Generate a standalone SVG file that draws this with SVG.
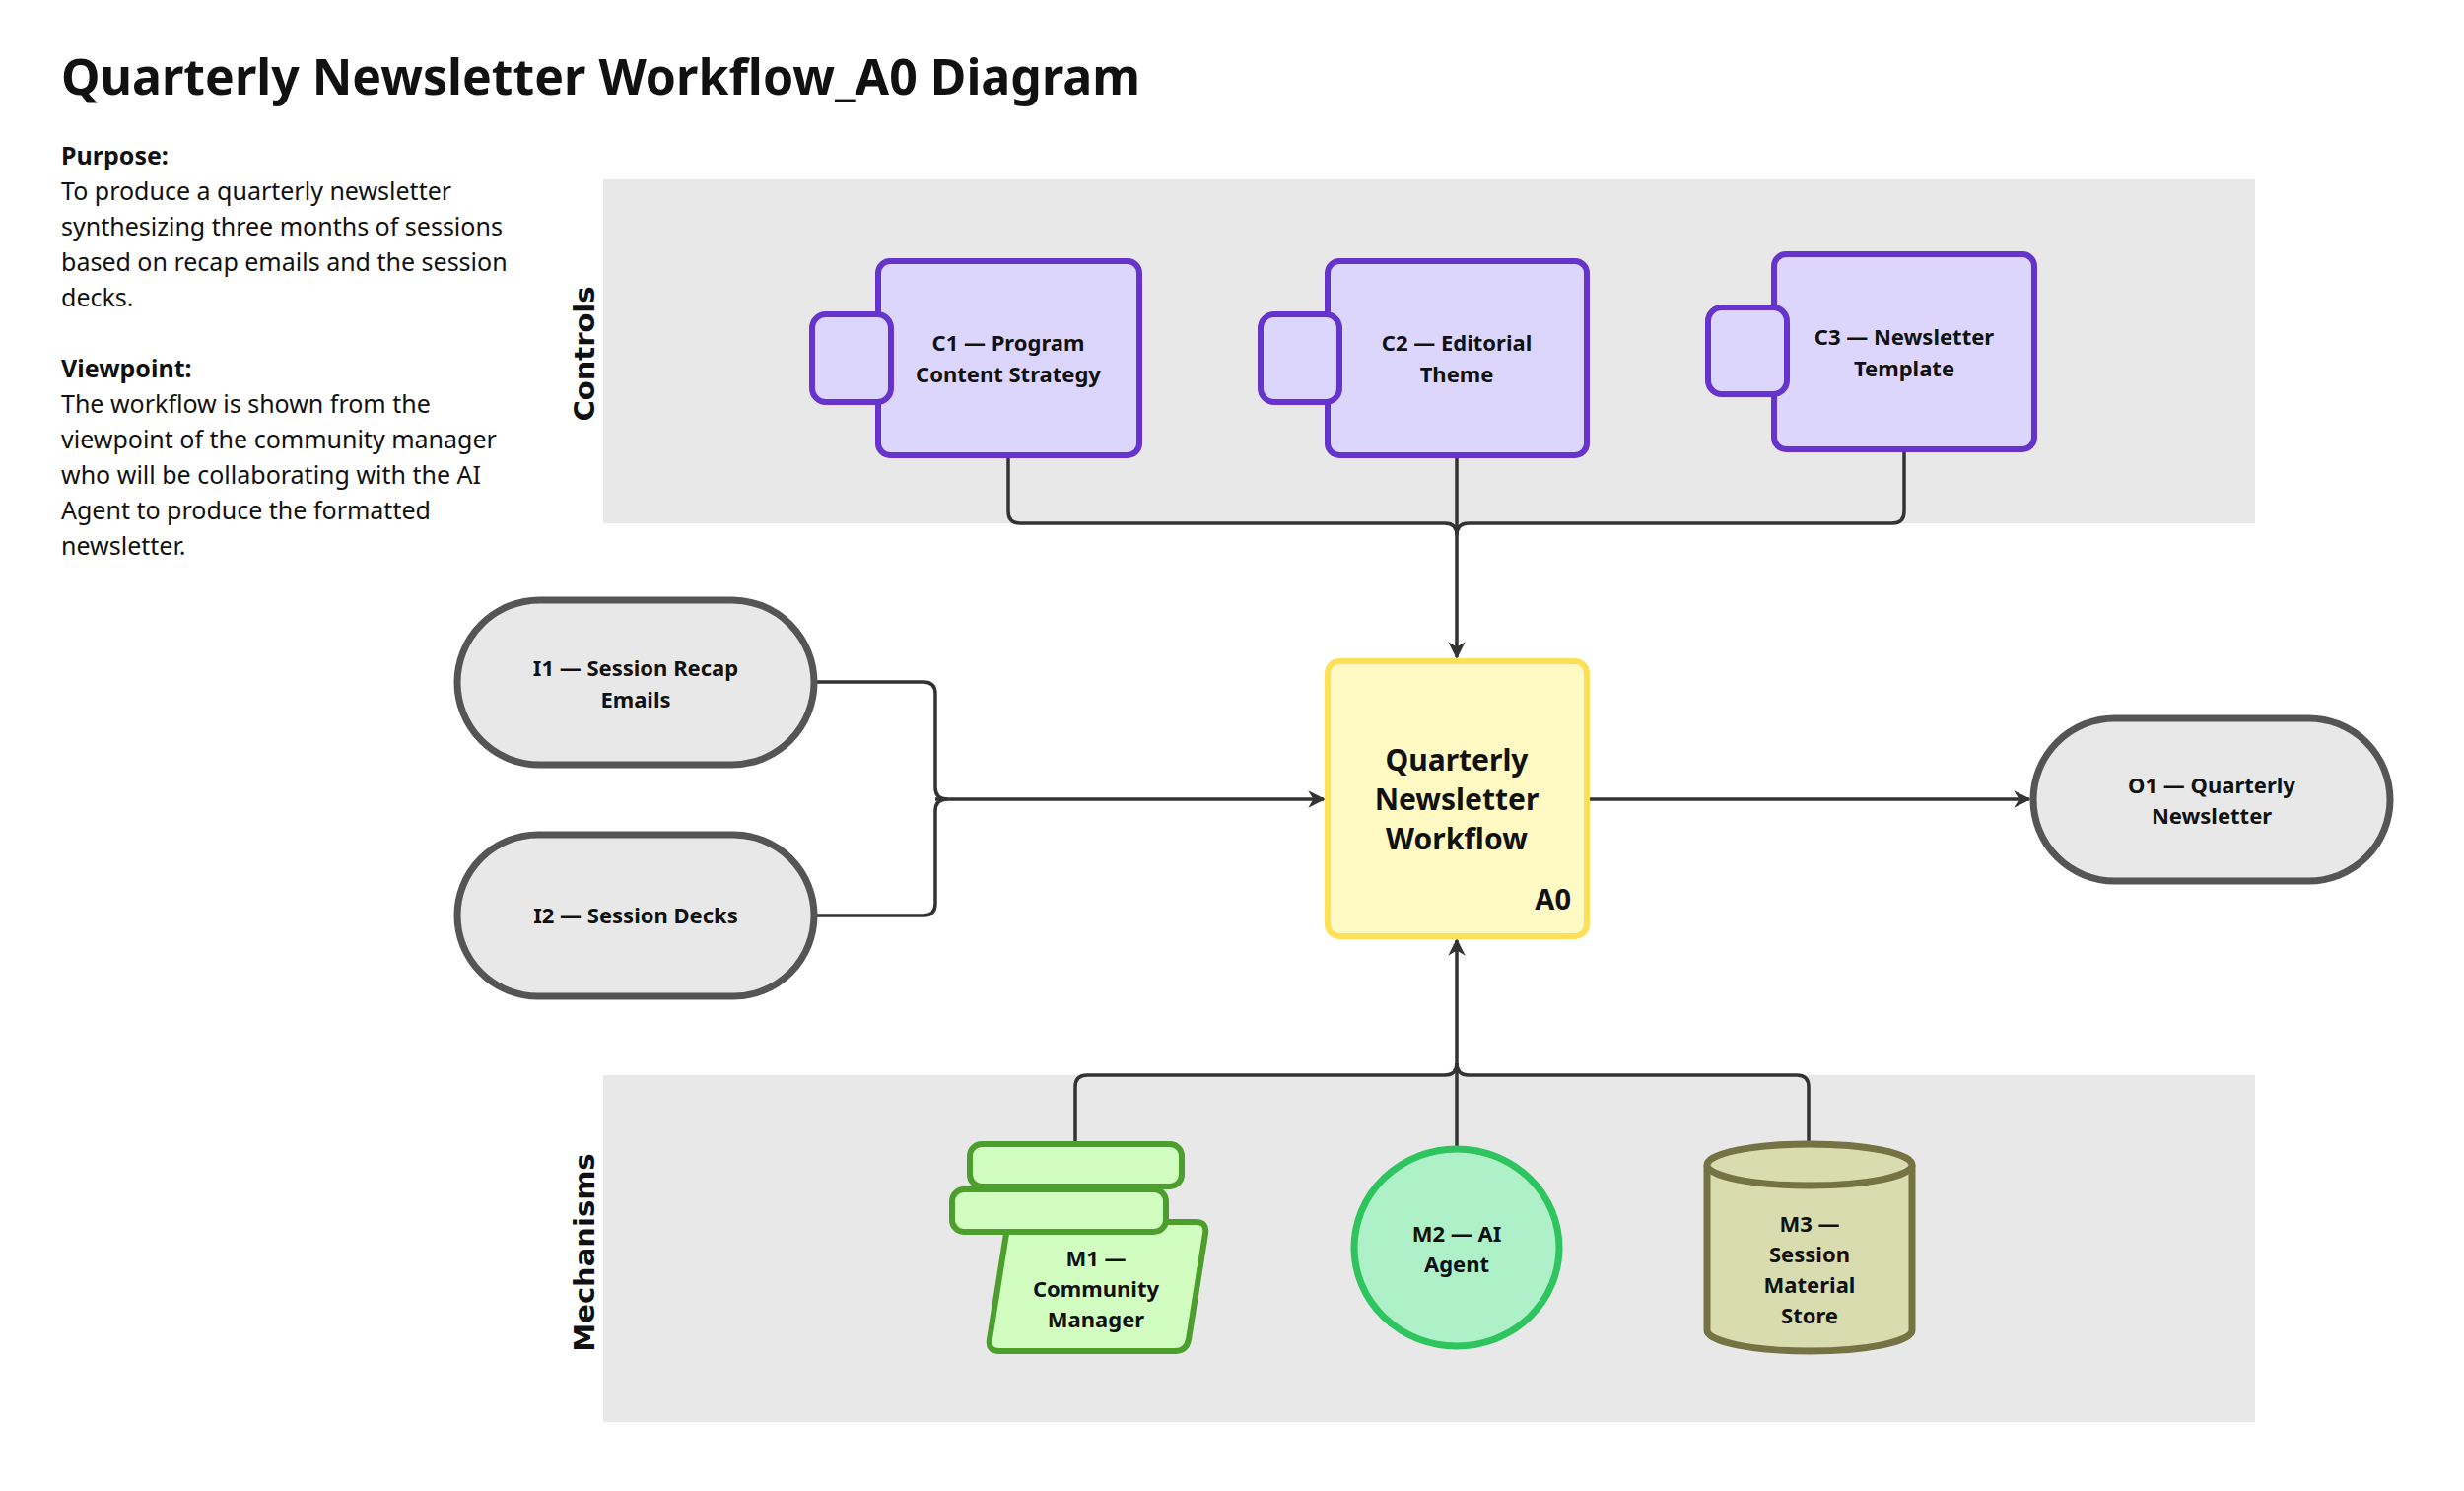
<svg xmlns="http://www.w3.org/2000/svg" width="2500" height="1513" viewBox="0 0 2500 1513">
<defs>
<marker id="ah" viewBox="0 0 10 10" refX="9" refY="5" markerWidth="5" markerHeight="5" orient="auto" markerUnits="strokeWidth"><path d="M0,0 L10,5 L0,10 L3,5 Z" fill="#333"/></marker>
<style>
text{font-family:"Noto Sans","Open Sans",sans-serif;fill:#111}
.t{font-size:50px;font-weight:700}
.p{font-size:25px}
.pb{font-size:25px;font-weight:700}
.lbl{font-size:29px;font-weight:700;font-family:"DejaVu Sans",sans-serif}
.n{font-size:22px;font-weight:700;text-anchor:middle}
.band{fill:#e8e8e8}
.ctl{fill:#dcd6fc;stroke:#6633cc;stroke-width:6}
.io{fill:#e8e8e8;stroke:#555;stroke-width:7}
.c{fill:none;stroke:#333;stroke-width:3.5}
</style>
</defs>
<rect width="2500" height="1513" fill="#fff"/>
<text class="t" x="62" y="96">Quarterly Newsletter Workflow_A0 Diagram</text>
<g id="notes">
<text class="pb" x="62" y="167">Purpose:</text>
<text class="p" x="62" y="203">To produce a quarterly newsletter</text>
<text class="p" x="62" y="239">synthesizing three months of sessions</text>
<text class="p" x="62" y="275">based on recap emails and the session</text>
<text class="p" x="62" y="311">decks.</text>
<text class="pb" x="62" y="383">Viewpoint:</text>
<text class="p" x="62" y="419">The workflow is shown from the</text>
<text class="p" x="62" y="455">viewpoint of the community manager</text>
<text class="p" x="62" y="491">who will be collaborating with the AI</text>
<text class="p" x="62" y="527">Agent to produce the formatted</text>
<text class="p" x="62" y="563">newsletter.</text>
</g>
<g id="bands">
<rect class="band" x="612" y="182" width="1676" height="349"/>
<rect class="band" x="612" y="1091" width="1676" height="352"/>
<text class="lbl" transform="translate(603,359) rotate(-90)" text-anchor="middle">Controls</text>
<text class="lbl" transform="translate(603,1271) rotate(-90)" text-anchor="middle">Mechanisms</text>
</g>
<g id="connectors">
<path class="c" d="M1023,462 V519 Q1023,531 1035,531 H1466 Q1478,531 1478,543"/>
<path class="c" d="M1932,456 V519 Q1932,531 1920,531 H1490 Q1478,531 1478,543"/>
<path class="c" d="M1478,462 V667" marker-end="url(#ah)"/>
<path class="c" d="M826,692 H937 Q949,692 949,704 V799 Q949,811 961,811"/>
<path class="c" d="M826,929 H937 Q949,929 949,917 V823 Q949,811 961,811"/>
<path class="c" d="M949,811 H1343" marker-end="url(#ah)"/>
<path class="c" d="M1610,811 H2059" marker-end="url(#ah)"/>
<path class="c" d="M1091,1161 V1103 Q1091,1091 1103,1091 H1466 Q1478,1091 1478,1079"/>
<path class="c" d="M1835,1161 V1103 Q1835,1091 1823,1091 H1490 Q1478,1091 1478,1079"/>
<path class="c" d="M1478,1165 V954" marker-end="url(#ah)"/>
</g>
<g id="C1">
<rect class="ctl" x="891" y="265" width="265" height="197" rx="12"/>
<rect class="ctl" x="824" y="319" width="80" height="89" rx="14"/>
<text class="n" x="1023" y="356">C1 — Program</text>
<text class="n" x="1023" y="388">Content Strategy</text>
</g>
<g id="C2">
<rect class="ctl" x="1347" y="265" width="263" height="197" rx="12"/>
<rect class="ctl" x="1279" y="319" width="80" height="89" rx="14"/>
<text class="n" x="1478" y="356">C2 — Editorial</text>
<text class="n" x="1478" y="388">Theme</text>
</g>
<g id="C3">
<rect class="ctl" x="1800" y="258" width="264" height="198" rx="12"/>
<rect class="ctl" x="1733" y="312" width="80" height="88" rx="14"/>
<text class="n" x="1932" y="350">C3 — Newsletter</text>
<text class="n" x="1932" y="382">Template</text>
</g>
<g id="A0">
<rect x="1347" y="671" width="263" height="279" rx="12" fill="#fff9c4" stroke="#fde058" stroke-width="6"/>
<text class="n" style="font-size:30px" x="1478" y="782">Quarterly</text>
<text class="n" style="font-size:30px" x="1478" y="822">Newsletter</text>
<text class="n" style="font-size:30px" x="1478" y="862">Workflow</text>
<text class="n" style="font-size:29px;text-anchor:end" x="1594" y="923">A0</text>
</g>
<g id="I1">
<rect class="io" x="464" y="609" width="362" height="167" rx="83.5"/>
<text class="n" x="645" y="686">I1 — Session Recap</text>
<text class="n" x="645" y="718">Emails</text>
</g>
<g id="I2">
<rect class="io" x="464" y="847" width="362" height="164" rx="82"/>
<text class="n" x="645" y="937">I2 — Session Decks</text>
</g>
<g id="O1">
<rect class="io" x="2063" y="729" width="362" height="165" rx="82.5"/>
<text class="n" x="2244" y="805">O1 — Quarterly</text>
<text class="n" x="2244" y="836">Newsletter</text>
</g>
<g id="M1">
<path d="M1016,1240 H1213 Q1225,1240 1223,1252 L1206,1359 Q1204,1371 1192,1371 H1014 Q1002,1371 1004,1359 L1021,1252 Z" fill="#d2fdc0" stroke="#4c9f2c" stroke-width="6"/>
<rect x="966" y="1207" width="217" height="43" rx="12" fill="#d2fdc0" stroke="#4c9f2c" stroke-width="6"/>
<rect x="984" y="1161" width="215" height="43" rx="12" fill="#d2fdc0" stroke="#4c9f2c" stroke-width="6"/>
<text class="n" x="1112" y="1285">M1 —</text>
<text class="n" x="1112" y="1316">Community</text>
<text class="n" x="1112" y="1347">Manager</text>
</g>
<g id="M2">
<ellipse cx="1478" cy="1266" rx="104" ry="100" fill="#aef0c8" stroke="#2ec55f" stroke-width="7"/>
<text class="n" x="1478" y="1260">M2 — AI</text>
<text class="n" x="1478" y="1291">Agent</text>
</g>
<g id="M3">
<path d="M1732,1182 V1350 A104,21 0 0 0 1940,1350 V1182" fill="#d8dcae" stroke="#757344" stroke-width="7"/>
<ellipse cx="1836" cy="1182" rx="104" ry="21" fill="#d8dcae" stroke="#757344" stroke-width="7"/>
<text class="n" x="1836" y="1250">M3 —</text>
<text class="n" x="1836" y="1281">Session</text>
<text class="n" x="1836" y="1312">Material</text>
<text class="n" x="1836" y="1343">Store</text>
</g>
</svg>
